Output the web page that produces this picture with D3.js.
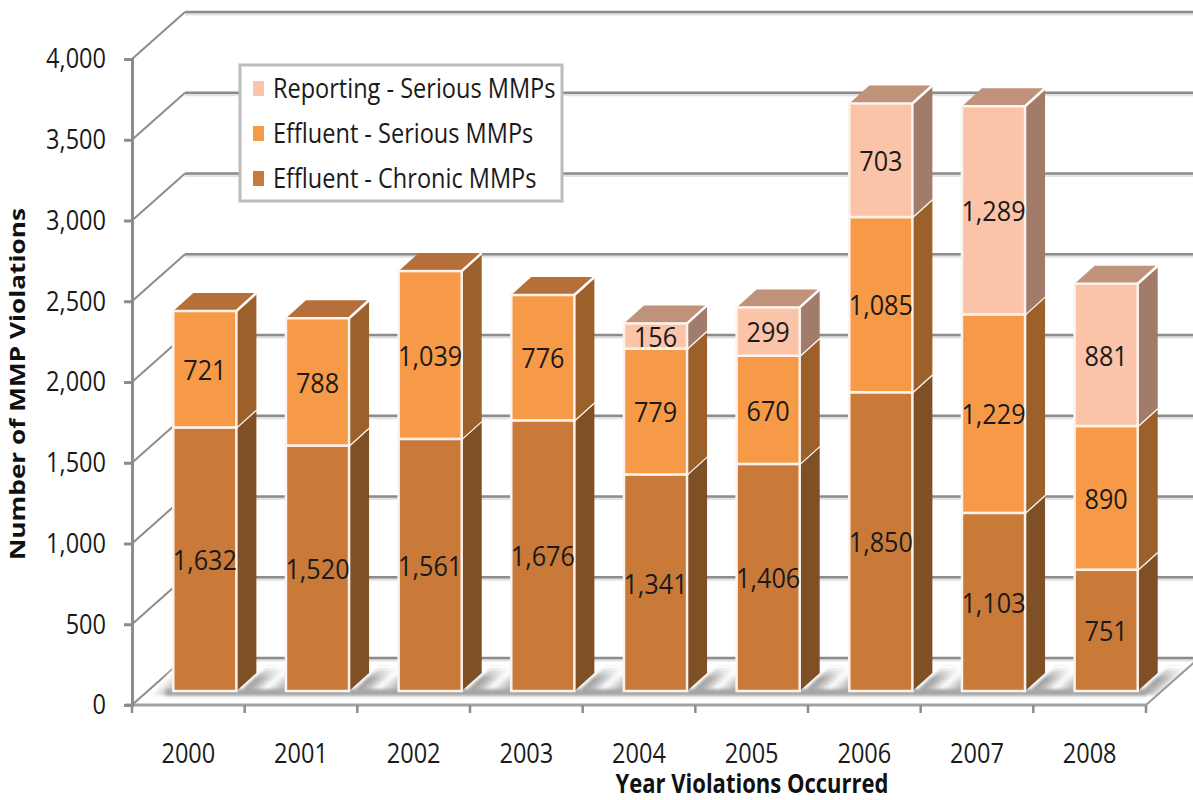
<!DOCTYPE html>
<head>
	<meta charset="utf-8">
	<title>MMP Violations</title>
	<script src="https://d3js.org/d3.v7.min.js"></script>
	<style>
	html, body { margin:0; padding:0; background:#fff; }
	svg { display:block; }
	text { font-family:"Open Sans",sans-serif; fill:#1a1a1a; }
	.title { font-weight:bold; fill:#111; }
	.tick line, .domain { stroke:#8c8c8c; stroke-width:3px; }
	.tick text { font-size:28px; }
	.datalabel { font-size:28px; text-anchor:middle; }
	.legendtext { font-size:28px; }
	</style>
</head>
<body>
<div class="chartContainer"></div>
<script>
var years = ["2000","2001","2002","2003","2004","2005","2006","2007","2008"];
var chronic = [1632,1520,1561,1676,1341,1406,1850,1103,751];
var effluentSerious = [721,788,1039,776,779,670,1085,1229,890];
var reportingSerious = [0,0,0,0,156,299,703,1289,881];
var yTicks = [0,500,1000,1500,2000,2500,3000,3500,4000];
var seriesNames = ["Effluent - Chronic MMPs","Effluent - Serious MMPs","Reporting - Serious MMPs"];

var colors = [
	{front:"#c97a39", side:"#7f4f26", top:"#b5703a"},
	{front:"#f79a48", side:"#9c602b", top:"#b5703a"},
	{front:"#fbc3a8", side:"#a27c6b", top:"#bf9279"}
];

var width = 1193, height = 800;
var depth = {x:53, y:47};      // wall depth of the 3d box
var barDepth = {x:20, y:18};   // depth of a column
var front = {x:16.5, y:14};    // column offset from the front of the floor
var squeeze = 0.84;            // the original font is narrower than any installed one
var squeezeData = 0.9;

var svg = d3.select(".chartContainer").append("svg")
	.attr("width", width).attr("height", height);

var defs = svg.append("defs");
var grad = defs.append("linearGradient").attr("id","gapshadow");
grad.append("stop").attr("offset","0").attr("stop-color","#989898");
grad.append("stop").attr("offset","0.2").attr("stop-color","#b8b8b8");
grad.append("stop").attr("offset","0.45").attr("stop-color","#ffffff");
grad.append("stop").attr("offset","0.72").attr("stop-color","#c4c4c4");
grad.append("stop").attr("offset","1").attr("stop-color","#a2a2a2");
var gradLeft = defs.append("linearGradient").attr("id","leftshadow");
gradLeft.append("stop").attr("offset","0").attr("stop-color","#ffffff");
gradLeft.append("stop").attr("offset","1").attr("stop-color","#a2a2a2");
var fade = defs.append("linearGradient").attr("id","fadetop")
	.attr("x1","0").attr("y1","0").attr("x2","0").attr("y2","1");
fade.append("stop").attr("offset","0").attr("stop-color","#fff").attr("stop-opacity",1);
fade.append("stop").attr("offset","1").attr("stop-color","#fff").attr("stop-opacity",0);
defs.append("filter").attr("id","soft").append("feGaussianBlur").attr("stdDeviation",1.5);

var x = d3.scaleBand().domain(years).range([132,1146]).paddingInner(0.44).paddingOuter(0.22);
var step = x.step();
var y = d3.scaleLinear().domain([0,4000]).range([705,59]);

defs.append("clipPath").attr("id","floorclip").append("path")
	.attr("d","M"+132+","+y(0)+"L"+(132+depth.x)+","+(y(0)-depth.y)+"L"+width+","+(y(0)-depth.y)+"L"+width+","+(y(0)-depth.y+5)+"L1146,"+y(0)+"Z");

// back wall and side wall grid
var grid = svg.append("g");
yTicks.forEach(function(t) {
	grid.append("line").attr("x1",132+depth.x).attr("x2",width)
		.attr("y1",y(t)-depth.y+2).attr("y2",y(t)-depth.y+2)
		.attr("stroke","#e2e2e2").attr("stroke-width",3);
	grid.append("line").attr("x1",132+depth.x).attr("x2",width)
		.attr("y1",y(t)-depth.y).attr("y2",y(t)-depth.y)
		.attr("stroke","#8c8c8c").attr("stroke-width",2.5);
	grid.append("line").attr("x1",132).attr("x2",132+depth.x)
		.attr("y1",y(t)).attr("y2",y(t)-depth.y)
		.attr("stroke","#8c8c8c").attr("stroke-width",2);
});

// shadow on the floor
var bars = years.map(function(d,i) {
	return {year:d, values:[chronic[i],effluentSerious[i],reportingSerious[i]]};
});
var barLeft = function(d) { return x(d.year)+front.x; };
var w = x.bandwidth();
var shadowBottom = y(0)-10, shadowTop = y(0)-38;

var floor = svg.append("g").attr("clip-path","url(#floorclip)");
var shadow = floor.append("g").attr("filter","url(#soft)");
bars.forEach(function(d) {
	var l = barLeft(d)+w;
	shadow.append("rect").attr("x",0).attr("y",shadowTop)
		.attr("width",step-w).attr("height",shadowBottom-shadowTop)
		.attr("fill","url(#gapshadow)")
		.attr("transform","translate("+(l+shadowBottom*(30/28))+",0) skewX(-"+(Math.atan(30/28)*180/Math.PI)+")");
});
shadow.append("rect").attr("x",0).attr("y",shadowTop)
	.attr("width",24).attr("height",shadowBottom-shadowTop)
	.attr("fill","url(#leftshadow)")
	.attr("transform","translate("+(barLeft(bars[0])-24+shadowBottom*(30/28))+",0) skewX(-"+(Math.atan(30/28)*180/Math.PI)+")");
shadow.append("rect").attr("x",barLeft(bars[0])-8).attr("y",shadowBottom-6).attr("width",1146-barLeft(bars[0])+8).attr("height",7)
	.attr("fill","#a6a6a6");
floor.append("rect").attr("x",132).attr("y",shadowTop-1).attr("width",width-132).attr("height",13)
	.attr("fill","url(#fadetop)");

// axes
var axisX = d3.axisBottom(x).tickSize(0).tickPadding(38);
var gx = svg.append("g").attr("transform","translate(0,"+y(0)+")").call(axisX);
gx.select(".domain").remove();
svg.append("line").attr("x1",1146).attr("y1",y(0)).attr("x2",1146+depth.x).attr("y2",y(0)-depth.y)
	.attr("stroke","#9a9a9a").attr("stroke-width",2);
svg.append("line").attr("x1",125).attr("x2",1147).attr("y1",y(0)).attr("y2",y(0))
	.attr("stroke","#a2a2a2").attr("stroke-width",3);
d3.range(0,years.length+1).forEach(function(i) {
	svg.append("line").attr("x1",132+i*step).attr("x2",132+i*step)
		.attr("y1",y(0)).attr("y2",y(0)+8).attr("stroke","#8c8c8c").attr("stroke-width",2.5);
});

var axisY = d3.axisLeft(y).tickValues(yTicks).tickSizeOuter(0).tickSize(8).tickPadding(18)
	.tickFormat(d3.format(","));
svg.append("g").attr("transform","translate(132,0)").call(axisY);

// columns
var col = svg.selectAll(".bar").data(bars).enter().append("g").attr("class","bar");
col.each(function(d) {
	var g = d3.select(this), l = barLeft(d), sum = 0;
	d.values.forEach(function(v,s) {
		if (!v) return;
		var b = y(sum)-front.y, t = y(sum+v)-front.y;
		sum += v;
		var isTop = s==2 || d.values[s+1]==0;
		g.append("path").attr("fill",colors[s].side)
			.attr("d","M"+(l+w)+","+b+"L"+(l+w+barDepth.x)+","+(b-barDepth.y)+"L"+(l+w+barDepth.x)+","+(t-barDepth.y)+"L"+(l+w)+","+t+"Z");
		if (isTop) {
			g.append("path").attr("fill",colors[s].top)
				.attr("d","M"+l+","+t+"L"+(l+barDepth.x)+","+(t-barDepth.y)+"L"+(l+w+barDepth.x)+","+(t-barDepth.y)+"L"+(l+w)+","+t+"Z");
		}
		g.append("line").attr("x1",l+w).attr("y1",t).attr("x2",l+w+barDepth.x).attr("y2",t-barDepth.y)
			.attr("stroke","#fff").attr("stroke-width",2.5);
		g.append("rect").attr("x",l).attr("y",t).attr("width",w).attr("height",b-t)
			.attr("fill",colors[s].front).attr("stroke","#fdf3ec").attr("stroke-width",2.5);
	});
});
col.each(function(d) {
	var g = d3.select(this), l = barLeft(d), sum = 0;
	d.values.forEach(function(v) {
		if (!v) return;
		g.append("text").attr("class","datalabel")
			.attr("x",l+w/2).attr("y",y(sum+v/2)-front.y+1).attr("dy","0.35em")
			.text(d3.format(",")(v));
		sum += v;
	});
});

// legend
var lg = svg.append("g");
lg.append("rect").attr("x",240).attr("y",65).attr("width",322).attr("height",136)
	.attr("fill","#fff").attr("stroke","#bcbcbc").attr("stroke-width",3);
[2,1,0].forEach(function(s,i) {
	var cy = 88+i*45;
	lg.append("rect").attr("x",253).attr("y",cy-7).attr("width",11).attr("height",15).attr("fill",colors[s].front);
	lg.append("text").attr("class","legendtext").attr("x",273).attr("y",cy).attr("dy","0.35em").text(seriesNames[s]);
});

// narrow every regular label
svg.selectAll(".tick text, .legendtext").each(function() {
	d3.select(this).attr("lengthAdjust","spacingAndGlyphs")
		.attr("textLength",this.getComputedTextLength()*squeeze);
});
svg.selectAll(".datalabel").each(function() {
	d3.select(this).attr("lengthAdjust","spacingAndGlyphs")
		.attr("textLength",this.getComputedTextLength()*squeezeData);
});

// titles
svg.append("text").attr("class","title").attr("text-anchor","middle").attr("font-size",27)
	.attr("lengthAdjust","spacingAndGlyphs").attr("textLength",273)
	.attr("x",752).attr("y",793).text("Year Violations Occurred");
svg.append("text").attr("class","title").attr("text-anchor","middle").attr("font-size",21)
	.attr("lengthAdjust","spacingAndGlyphs").attr("textLength",352)
	.attr("transform","translate(25,384) rotate(-90)").text("Number of MMP Violations");
</script>
</body>
</html>
